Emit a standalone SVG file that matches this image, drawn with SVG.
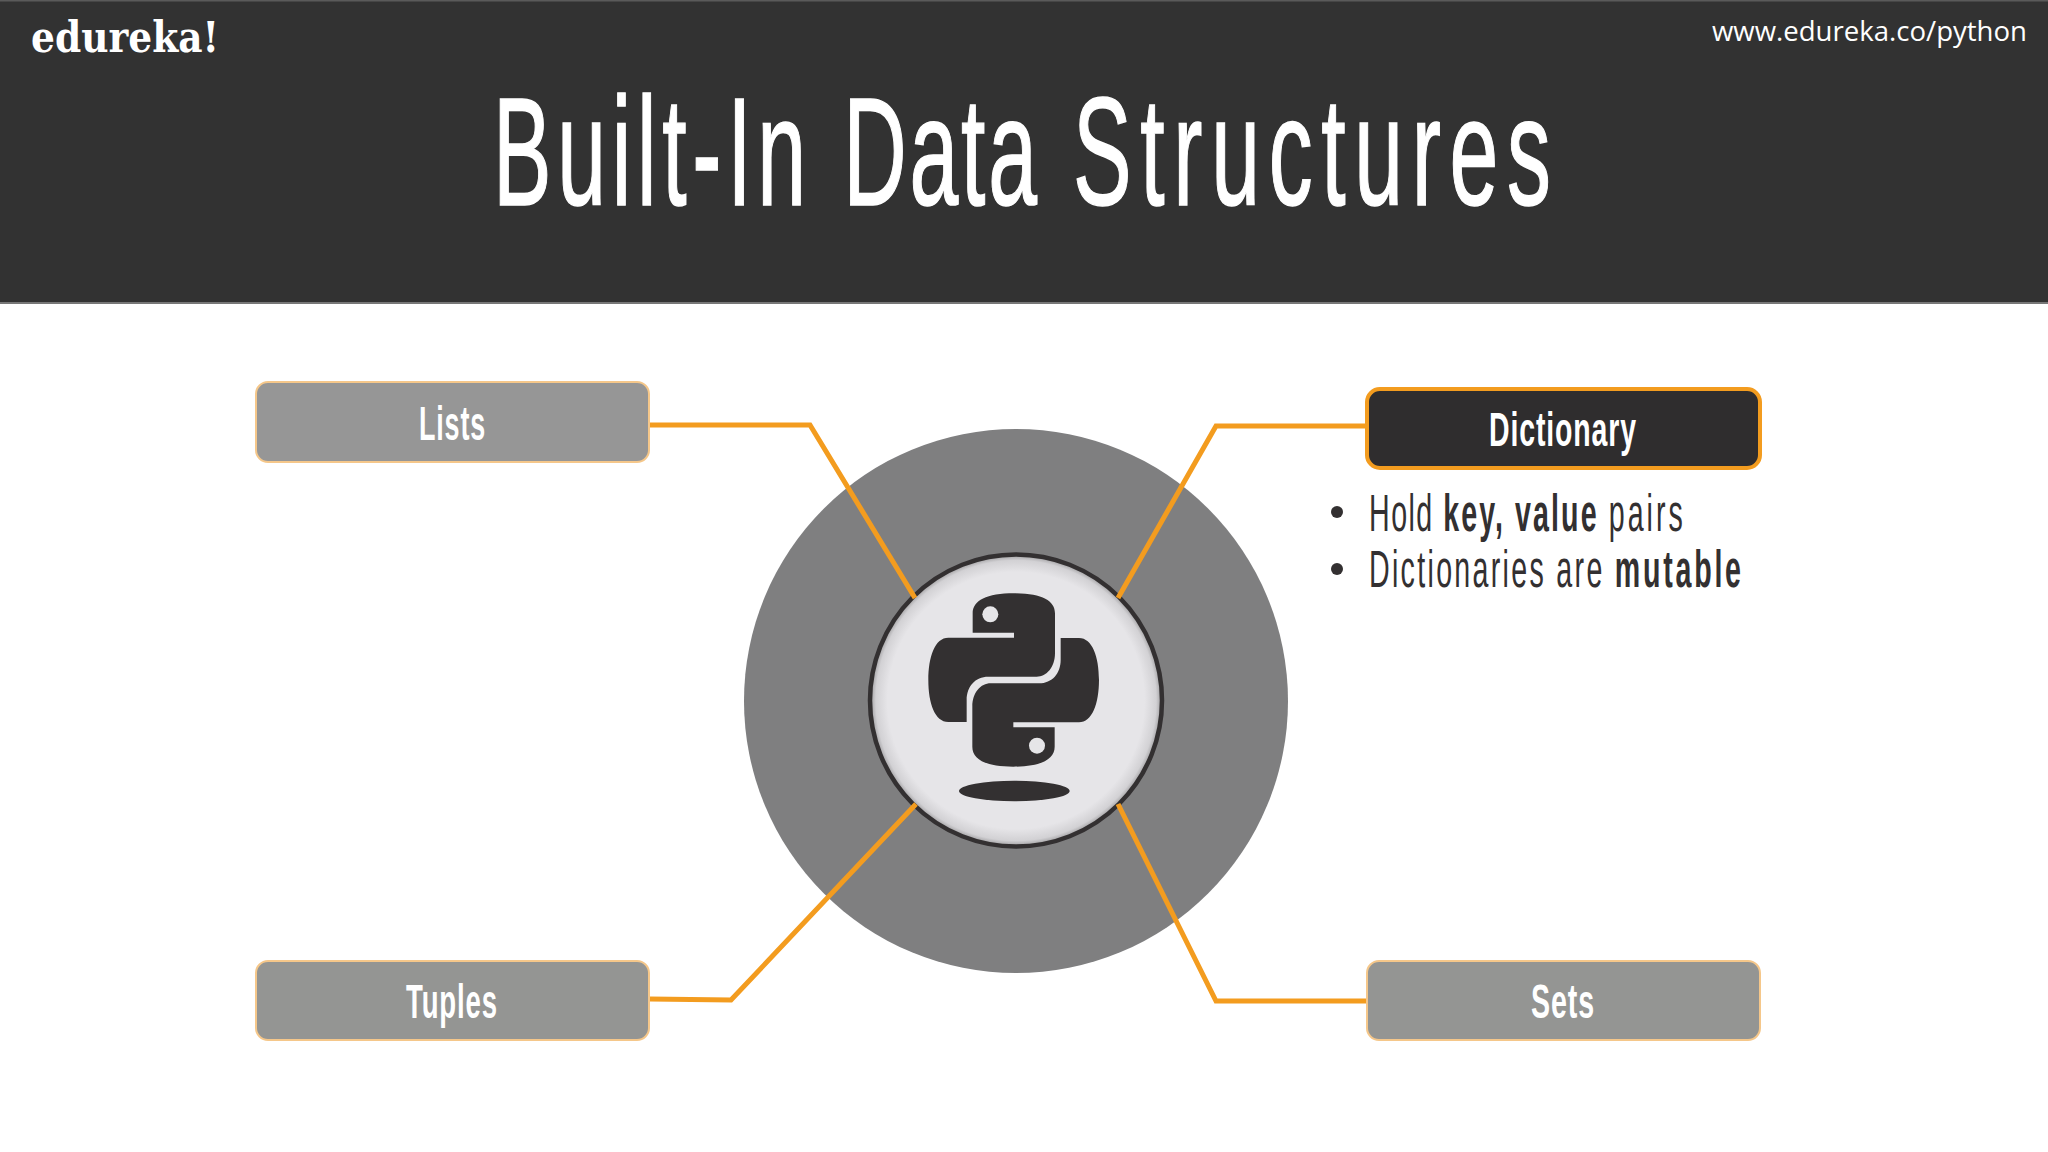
<svg xmlns="http://www.w3.org/2000/svg" width="2048" height="1152" viewBox="0 0 2048 1152">
<defs>
<radialGradient id="glass" cx="0.5" cy="0.5" r="0.5">
<stop offset="0.88" stop-color="#e6e5e8"/>
<stop offset="0.96" stop-color="#d2d1d4"/>
<stop offset="1" stop-color="#9a999b"/>
</radialGradient>
<path id="snake" d="M398 308V250C398 212 440 190 522 190C605 190 645 212 645 250V370C645 412 620 440 590 440H445C405 440 380 470 380 510V576H325C285 576 265 520 265 450C265 380 285 323 325 323H522V308Z"/>
</defs>
<style>
.box{stroke:#f5c78a;stroke-width:2;fill:#969696}
.lb{font-family:"Liberation Sans",Arial,sans-serif;font-weight:700;font-size:48px;letter-spacing:1.5px;fill:#fff}
.conn{fill:none;stroke:#f39c1f;stroke-width:5;stroke-linejoin:miter}
.bl{font-family:"Liberation Sans",Arial,sans-serif;font-size:52px;fill:#333031}
.bl .b{font-weight:700}
</style>
<rect width="2048" height="1152" fill="#fff"/>
<g id="header">
<rect x="0" y="0" width="2048" height="303" fill="#323232"/>
<rect x="0" y="0" width="2048" height="1.5" fill="#5a5a5a"/>
<rect x="0" y="302" width="2048" height="2" fill="#777"/>
<text x="31" y="52" font-family="'DejaVu Serif',serif" font-weight="700" font-size="43" fill="#fff" textLength="188" lengthAdjust="spacingAndGlyphs">edureka!</text>
<text x="1712" y="41" font-family="'Open Sans',sans-serif" font-size="28" fill="#fff" textLength="315" lengthAdjust="spacingAndGlyphs">www.edureka.co/python</text>
<text transform="translate(493 205) scale(0.57 1)" x="0" y="0" font-family="'Liberation Sans',Arial,sans-serif" font-size="154" fill="#fff" stroke="#fff" stroke-width="1.5"><tspan letter-spacing="10" word-spacing="2.5">Built-In </tspan><tspan letter-spacing="4.9" word-spacing="10.5">Data </tspan><tspan letter-spacing="15.2">Structures</tspan></text>
</g>
<circle id="disc" cx="1016" cy="701" r="272" fill="#7f7f80"/>
<g id="python-hub">
<circle cx="1016" cy="700.5" r="146" fill="url(#glass)" stroke="#333031" stroke-width="4.5"/>
<g transform="translate(840 530) scale(0.33333)" fill="#333031">
<use href="#snake"/>
<use href="#snake" transform="rotate(180 521 450)"/>
<circle cx="451" cy="253" r="24" fill="#e6e5e8"/>
<circle cx="591" cy="647" r="24" fill="#e6e5e8"/>
<ellipse cx="523" cy="783" rx="166" ry="31"/>
</g>
</g>
<g id="connectors">
<polyline class="conn" points="650,425 810,425 915,598"/>
<polyline class="conn" points="1366,426 1216,426 1118,598"/>
<polyline class="conn" points="650,999 731,1000 916,804"/>
<polyline class="conn" points="1367,1001 1216,1001 1118,804"/>
</g>
<g id="lists">
<rect class="box" x="256" y="382" width="393" height="80" rx="12"/>
<text class="lb" x="419" y="440" textLength="67" lengthAdjust="spacingAndGlyphs">Lists</text>
</g>
<g id="tuples">
<rect class="box" x="256" y="961" width="393" height="79" rx="12" style="fill:#949593"/>
<text class="lb" x="406" y="1018" textLength="92" lengthAdjust="spacingAndGlyphs">Tuples</text>
</g>
<g id="sets">
<rect class="box" x="1367" y="961" width="393" height="79" rx="12" style="fill:#949593"/>
<text class="lb" x="1531" y="1018" textLength="64" lengthAdjust="spacingAndGlyphs">Sets</text>
</g>
<g id="dictionary">
<rect x="1367" y="389" width="393" height="79" rx="13" fill="#2f2d2e" stroke="#f39c1f" stroke-width="4"/>
<text class="lb" x="1489" y="446" textLength="148" lengthAdjust="spacingAndGlyphs">Dictionary</text>
</g>
<g id="dictionary-notes">
<circle cx="1337" cy="512" r="6" fill="#333031"/>
<circle cx="1337" cy="569" r="6" fill="#333031"/>
<text class="bl" transform="translate(1369 531) scale(0.55 1)"><tspan letter-spacing="2.7">Hold </tspan><tspan class="b" letter-spacing="3.8">key, value </tspan><tspan letter-spacing="5.5">pairs</tspan></text>
<text class="bl" transform="translate(1369 587) scale(0.55 1)"><tspan letter-spacing="4.2">Dictionaries are </tspan><tspan class="b" letter-spacing="5">mutable</tspan></text>
</g>
</svg>
